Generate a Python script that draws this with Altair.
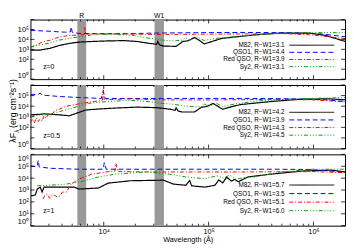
import altair as alt
import pandas as pd

# ---------------- data ----------------
# z = 0
M82_Z0_WL = [2000, 2476, 3063, 3791, 4695, 5808, 7662, 11010, 15820, 20880, 25820, 29990, 31970, 32660, 34080, 37120, 49000, 56860, 63250, 73450, 81700, 90860, 101100, 133400, 269700, 479600, 908800, 1306000, 2000000]
M82_Z0_F = [813, 851, 1259, 2512, 3981, 5370, 6166, 7079, 7586, 6166, 4365, 3548, 3162, 6166, 2818, 2138, 1995, 6310, 7079, 15849, 7943, 3548, 5012, 12589, 28184, 43652, 43652, 25119, 6310]
QSO1_Z0_WL = [2000, 3063, 4219, 4796, 4897, 5002, 5808, 8897, 16870, 31970, 75040, 217800, 632500, 1199000, 2000000]
QSO1_Z0_F = [81283, 66069, 53703, 56234, 186209, 52481, 39811, 38019, 38019, 43652, 47863, 50119, 47863, 35481, 18621]
RQSO_Z0_WL = [2000, 2225, 2476, 2754, 3063, 3407, 3791, 4695, 5808, 6460, 6599, 6743, 7187, 13630, 31970, 75040, 217800, 511400, 968800, 2000000]
RQSO_Z0_F = [1514, 2291, 4365, 6607, 8128, 12303, 17783, 25119, 28184, 31623, 158489, 31623, 35481, 35481, 31623, 33113, 35481, 38905, 28184, 12303]
SY2_Z0_WL = [2000, 2476, 3063, 3791, 5002, 7662, 11740, 19590, 25820, 31970, 39600, 49000, 56860, 60610, 66030, 70390, 78300, 85240, 90860, 114900, 176000, 269700, 511400, 968800, 2000000]
SY2_Z0_F = [1862, 2818, 4365, 8710, 14125, 28184, 33113, 25119, 14125, 10715, 7586, 7244, 8913, 15136, 8913, 10000, 18621, 10000, 7943, 12589, 18621, 28184, 43652, 47863, 47863]

# z = 0.5
M82_Z05_WL = [2000, 2754, 3791, 4695, 6743, 8897, 12785, 20880, 31970, 44030, 47970, 49000, 51140, 55660, 73450, 85240, 94830, 110080, 122500, 136300, 151700, 200000, 404400, 718800, 1362000, 2000000]
M82_Z05_F = [1514, 1862, 1514, 1230, 4365, 5370, 6607, 8128, 7244, 5012, 3981, 7079, 3548, 2818, 2818, 7943, 8913, 17783, 10000, 5012, 7079, 14125, 28184, 43652, 50119, 39811]
QSO1_Z05_WL = [2000, 2371, 2476, 2582, 3791, 5808, 9483, 9899, 10331, 25820, 75040, 269700, 632500, 1199000, 2000000]
QSO1_Z05_F = [123027, 125893, 177828, 112202, 81283, 66069, 53703, 251189, 53703, 53703, 53703, 53703, 50119, 41687, 28184]
RQSO_Z05_WL = [2000, 2086, 2178, 2274, 2371, 2476, 2582, 2696, 2813, 2935, 3063, 3407, 3791, 4403, 6192, 8897, 9692, 9899, 10112, 16870, 39600, 114900, 413100, 968800, 2000000]
RQSO_Z05_F = [282, 631, 251, 794, 355, 631, 398, 1259, 708, 1585, 1000, 3548, 5370, 10000, 18621, 31623, 35481, 354813, 39811, 47863, 38905, 38905, 43652, 39811, 25704]
SY2_Z05_WL = [2000, 2754, 3407, 4403, 5808, 7187, 11010, 17990, 25820, 35570, 45990, 60610, 75040, 85240, 90860, 98950, 105500, 117400, 136300, 176000, 293800, 632500, 2000000]
SY2_Z05_F = [1230, 1514, 2291, 4677, 10000, 18621, 28184, 35481, 28184, 18621, 15136, 10000, 8913, 8913, 15849, 10000, 11220, 19953, 8913, 15849, 31623, 47863, 66069]

# z = 1
M82_Z1_WL = [2000, 2225, 2322, 2476, 2582, 2696, 3791, 5223, 5808, 8897, 11010, 17990, 37120, 45990, 60610, 66030, 68900, 92820, 114900, 125100, 136300, 148500, 165100, 176000, 191800, 237400, 387400, 783000, 1485000, 2000000]
M82_Z1_F = [316, 380, 1202, 1778, 676, 1778, 1778, 1778, 1202, 1479, 3802, 6026, 6761, 3162, 2512, 6310, 2239, 1778, 2512, 7079, 3981, 12023, 5623, 7943, 5012, 12589, 21380, 39811, 46774, 33113]
QSO1_Z1_WL = [2000, 2225, 2322, 2371, 2422, 3063, 5808, 9899, 10112, 10551, 25820, 75040, 413100, 908800, 2000000]
QSO1_Z1_F = [107152, 95499, 100000, 316228, 89125, 67608, 56234, 56234, 199526, 56234, 56234, 56234, 56234, 53703, 31623]
RQSO_Z1_WL = [2639, 2754, 2874, 3063, 3266, 3407, 3633, 3791, 4042, 4403, 4897, 5808, 7662, 11010, 12785, 13060, 13630, 25820, 217800, 968800, 2000000]
RQSO_Z1_F = [178, 398, 468, 200, 398, 355, 251, 316, 676, 676, 3162, 8318, 21380, 34674, 39811, 177828, 35481, 33113, 33113, 35481, 28840]
SY2_Z1_WL = [2322, 3063, 4403, 6192, 8897, 12785, 25820, 42220, 60610, 92820, 119880, 139200, 158100, 183800, 217800, 269700, 479600, 968800, 2000000]
SY2_Z1_F = [2291, 2512, 3162, 5248, 12589, 21380, 33113, 21380, 12589, 8913, 15849, 10000, 17783, 7943, 11220, 12589, 31623, 56234, 56234]

Z_LABELS = ["z=0", "z=0.5", "z=1"]
NAMES = ["M82", "QSO1", "Red QSO", "Sy2"]
RW1 = [["3.1", "4.4", "3.9", "3.1"], ["4.2", "3.9", "4.3", "4.5"], ["5.7", "3.5", "5.1", "6.0"]]
SERIES = [
    [(M82_Z0_WL, M82_Z0_F), (QSO1_Z0_WL, QSO1_Z0_F), (RQSO_Z0_WL, RQSO_Z0_F), (SY2_Z0_WL, SY2_Z0_F)],
    [(M82_Z05_WL, M82_Z05_F), (QSO1_Z05_WL, QSO1_Z05_F), (RQSO_Z05_WL, RQSO_Z05_F), (SY2_Z05_WL, SY2_Z05_F)],
    [(M82_Z1_WL, M82_Z1_F), (QSO1_Z1_WL, QSO1_Z1_F), (RQSO_Z1_WL, RQSO_Z1_F), (SY2_Z1_WL, SY2_Z1_F)],
]
BAND_NAMES = ["R", "W1"]
BAND_LO = [5600, 30500]
BAND_HI = [6800, 37500]
X_MAJOR = [1e4, 1e5, 1e6]
X_MINOR = [3000, 4000, 5000, 6000, 7000, 8000, 9000,
           20000, 30000, 40000, 50000, 60000, 70000, 80000, 90000,
           200000, 300000, 400000, 500000, 600000, 700000, 800000, 900000]
Y_TICKS = [1, 10, 100, 1000, 10000, 100000, 1000000]

# ---------------- style ----------------
W = 322
HEIGHTS = [61, 65, 73]
FONT = "Liberation Sans"
COLORS = ["#000000", "#0000ff", "#ff0000", "#00a000"]
DASHES = [[1, 0], [5, 3], [4, 2, 1, 2], [4, 2, 1, 2, 1, 2, 1, 2]]
WIDTHS = [1.2, 1, 1, 1]
XS = alt.Scale(type="log", domain=[2000, 2000000], nice=False)
YS = alt.Scale(type="log", domain=[1, 1000000], nice=False)
SUP = "['\u2070','\u00b9','\u00b2','\u00b3','\u2074','\u2075','\u2076']"
LABEL_EXPR = "'10' + " + SUP + "[round(log(datum.value)/LN10)]"

ONE = pd.DataFrame({"a": [0]})


def panel(i):
    H = HEIGHTS[i]
    bottom = i == 2
    xaxis = (alt.Axis(values=X_MAJOR, labelExpr=LABEL_EXPR, title="Wavelength (\u00c5)",
                      ticks=False, domain=False, grid=False, labelFontSize=7.5, labelPadding=2,
                      titleFontSize=7.5, titleFontWeight="normal", titlePadding=1,
                      labelFont=FONT, titleFont=FONT, labelColor="black", titleColor="black")
             if bottom else None)
    yaxis = alt.Axis(values=Y_TICKS, labelExpr=LABEL_EXPR, title=None, ticks=False, domain=False,
                     grid=False, labelFontSize=7.5, labelPadding=2, labelFlush=2.5,
                     labelFont=FONT, labelColor="black")
    X = lambda f: alt.X(f, scale=XS, axis=xaxis)
    Y = lambda f: alt.Y(f, scale=YS, axis=yaxis)

    layers = []
    bands = pd.DataFrame({"lo": BAND_LO, "hi": BAND_HI, "name": BAND_NAMES})
    bands["mid"] = (bands["lo"] * bands["hi"]) ** 0.5
    layers.append(alt.Chart(bands).mark_rect(color="#999999").encode(
        x=X("lo:Q"), x2="hi:Q", y=alt.value(0), y2=alt.value(H)))

    for k, (wl, fl) in enumerate(SERIES[i]):
        df = pd.DataFrame({"wl": wl, "f": fl})
        layers.append(alt.Chart(df).mark_line(color=COLORS[k], strokeDash=DASHES[k],
                                              strokeWidth=WIDTHS[k], clip=True).encode(
            x=X("wl:Q"), y=Y("f:Q")))

    # inward ticks
    maj = pd.DataFrame({"v": X_MAJOR})
    mnr = pd.DataFrame({"v": X_MINOR})
    for d, L in ((maj, 4), (mnr, 2)):
        layers.append(alt.Chart(d).mark_rule(color="black", strokeWidth=0.8).encode(
            x=X("v:Q"), y=alt.value(H), y2=alt.value(H - L)))
        layers.append(alt.Chart(d).mark_rule(color="black", strokeWidth=0.8).encode(
            x=X("v:Q"), y=alt.value(0), y2=alt.value(L)))
    yt = pd.DataFrame({"v": Y_TICKS})
    layers.append(alt.Chart(yt).mark_rule(color="black", strokeWidth=0.8).encode(
        y=Y("v:Q"), x=alt.value(0), x2=alt.value(4)))
    layers.append(alt.Chart(yt).mark_rule(color="black", strokeWidth=0.8).encode(
        y=Y("v:Q"), x=alt.value(W - 4), x2=alt.value(W)))

    # legend
    for k in range(4):
        yy = H * (0.43 + 0.12 * k)
        txt = f"{NAMES[k]}, R\u2212W1={RW1[i][k]}"
        layers.append(alt.Chart(ONE).mark_text(align="right", baseline="middle", fontSize=6.5,
                                               font=FONT, color="black").encode(
            x=alt.value(260), y=alt.value(yy), text=alt.value(txt)))
        layers.append(alt.Chart(ONE).mark_rule(color=COLORS[k], strokeDash=DASHES[k], strokeWidth=1).encode(
            x=alt.value(265), x2=alt.value(311), y=alt.value(yy)))

    layers.append(alt.Chart(ONE).mark_text(align="left", baseline="middle", fontSize=7, font=FONT,
                                           color="black").encode(
        x=alt.value(13), y=alt.value(0.8 * H), text=alt.value(Z_LABELS[i])))

    if i == 0:
        layers.append(alt.Chart(bands).mark_text(baseline="bottom", fontSize=7, font=FONT,
                                                 color="black").encode(
            x=X("mid:Q"), y=alt.value(-1), text="name:N"))
    if i == 1:
        base = 59
        layers.append(alt.Chart(ONE).mark_text(align="left", baseline="alphabetic", angle=270,
                                               fontSize=9, font=FONT, color="black").encode(
            x=alt.value(-14.5), y=alt.value(base), text=alt.value("\u03bbF")))
        layers.append(alt.Chart(ONE).mark_text(align="left", baseline="alphabetic", angle=270,
                                               fontSize=6.5, font=FONT, color="black").encode(
            x=alt.value(-12), y=alt.value(base - 10.2), text=alt.value("\u03bb")))
        layers.append(alt.Chart(ONE).mark_text(align="left", baseline="alphabetic", angle=270,
                                               fontSize=9, font=FONT, color="black").encode(
            x=alt.value(-14.5), y=alt.value(base - 15),
            text=alt.value("(erg cm\u207b\u00b2s\u207b\u00b9)")))

    return alt.layer(*layers).properties(width=W, height=H)


chart = alt.vconcat(panel(0), panel(1), panel(2), spacing=6, bounds="flush").properties(
    padding=0).configure_view(stroke="black", strokeWidth=1)

chart.save("out.html", embed_options={"renderer": "svg", "actions": False})
